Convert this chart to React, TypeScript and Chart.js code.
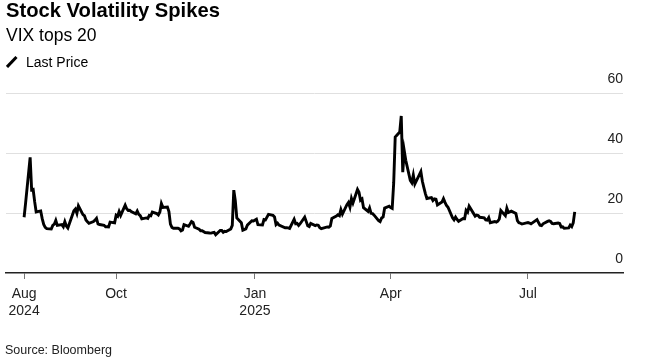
import React, { useEffect, useRef } from 'react';
import { Chart, registerables } from 'chart.js';

Chart.register(...registerables);

const TITLE = 'Stock Volatility Spikes';
const SUBTITLE = 'VIX tops 20';
const SERIES_NAME = 'Last Price';
const SOURCE = 'Source: Bloomberg';

const DATES: string[] = [
  '2024-08-01','2024-08-02','2024-08-05','2024-08-06','2024-08-07','2024-08-08','2024-08-09','2024-08-12','2024-08-13','2024-08-14','2024-08-15','2024-08-16','2024-08-19','2024-08-20','2024-08-21','2024-08-22','2024-08-23','2024-08-26','2024-08-27','2024-08-28','2024-08-29','2024-08-30',
  '2024-09-03','2024-09-04','2024-09-05','2024-09-06','2024-09-09','2024-09-10','2024-09-11','2024-09-12','2024-09-13','2024-09-16','2024-09-17','2024-09-18','2024-09-19','2024-09-20','2024-09-23','2024-09-24','2024-09-25','2024-09-26','2024-09-27','2024-09-30',
  '2024-10-01','2024-10-02','2024-10-03','2024-10-04','2024-10-07','2024-10-08','2024-10-09','2024-10-10','2024-10-11','2024-10-14','2024-10-15','2024-10-16','2024-10-17','2024-10-18','2024-10-21','2024-10-22','2024-10-23','2024-10-24','2024-10-25','2024-10-28','2024-10-29','2024-10-30','2024-10-31',
  '2024-11-01','2024-11-04','2024-11-05','2024-11-06','2024-11-07','2024-11-08','2024-11-11','2024-11-12','2024-11-13','2024-11-14','2024-11-15','2024-11-18','2024-11-19','2024-11-20','2024-11-21','2024-11-22','2024-11-25','2024-11-26','2024-11-27','2024-11-29',
  '2024-12-02','2024-12-03','2024-12-04','2024-12-05','2024-12-06','2024-12-09','2024-12-10','2024-12-11','2024-12-12','2024-12-13','2024-12-16','2024-12-17','2024-12-18','2024-12-19','2024-12-20','2024-12-23','2024-12-24','2024-12-26','2024-12-27','2024-12-30','2024-12-31',
  '2025-01-02','2025-01-03','2025-01-06','2025-01-07','2025-01-08','2025-01-10','2025-01-13','2025-01-14','2025-01-15','2025-01-16','2025-01-17','2025-01-21','2025-01-22','2025-01-23','2025-01-24','2025-01-27','2025-01-28','2025-01-29','2025-01-30','2025-01-31',
  '2025-02-03','2025-02-04','2025-02-05','2025-02-06','2025-02-07','2025-02-10','2025-02-11','2025-02-12','2025-02-13','2025-02-14','2025-02-18','2025-02-19','2025-02-20','2025-02-21','2025-02-24','2025-02-25','2025-02-26','2025-02-27','2025-02-28',
  '2025-03-03','2025-03-04','2025-03-05','2025-03-06','2025-03-07','2025-03-10','2025-03-11','2025-03-12','2025-03-13','2025-03-14','2025-03-17','2025-03-18','2025-03-19','2025-03-20','2025-03-21','2025-03-24','2025-03-25','2025-03-26','2025-03-27','2025-03-28','2025-03-31',
  '2025-04-01','2025-04-02','2025-04-03','2025-04-04','2025-04-07','2025-04-08','2025-04-09','2025-04-10','2025-04-11','2025-04-14','2025-04-15','2025-04-16','2025-04-17','2025-04-21','2025-04-22','2025-04-23','2025-04-24','2025-04-25','2025-04-28','2025-04-29','2025-04-30',
  '2025-05-01','2025-05-02','2025-05-05','2025-05-06','2025-05-07','2025-05-08','2025-05-09','2025-05-12','2025-05-13','2025-05-14','2025-05-15','2025-05-16','2025-05-19','2025-05-20','2025-05-21','2025-05-22','2025-05-23','2025-05-27','2025-05-28','2025-05-29','2025-05-30',
  '2025-06-02','2025-06-03','2025-06-04','2025-06-05','2025-06-06','2025-06-09','2025-06-10','2025-06-11','2025-06-12','2025-06-13','2025-06-16','2025-06-17','2025-06-18','2025-06-20','2025-06-23','2025-06-24','2025-06-25','2025-06-26','2025-06-27','2025-06-30',
  '2025-07-01','2025-07-02','2025-07-03','2025-07-07','2025-07-08','2025-07-09','2025-07-10','2025-07-11','2025-07-14','2025-07-15','2025-07-16','2025-07-17','2025-07-18','2025-07-21','2025-07-22','2025-07-23','2025-07-24','2025-07-25','2025-07-28','2025-07-29','2025-07-30','2025-07-31',
  '2025-08-01',
];

const VIX: number[] = [
  18.59,23.39,38.57,27.71,27.85,23.79,20.37,20.71,18.12,16.19,15.23,14.80,14.65,15.88,16.27,17.55,15.86,16.15,15.43,17.11,15.65,15.00,
  20.72,21.32,19.90,22.38,19.45,19.08,17.69,17.07,16.56,17.14,17.61,18.23,16.33,16.15,15.89,15.39,15.41,15.37,16.96,16.73,
  19.26,18.90,20.49,19.21,22.64,21.42,20.86,20.93,20.46,19.70,20.64,19.58,19.11,18.03,18.37,18.20,19.24,19.08,20.33,19.80,19.34,20.35,23.16,
  21.88,21.98,20.49,16.27,15.20,14.94,14.97,14.71,14.02,14.31,16.14,15.58,16.35,17.16,16.87,15.24,14.60,14.10,14.10,13.51,
  13.34,13.30,13.45,13.54,12.77,14.19,14.18,13.58,13.92,13.81,14.69,15.87,27.62,24.09,18.36,16.78,14.27,14.73,15.95,17.40,17.35,
  17.93,16.13,16.04,17.82,17.70,19.54,19.19,18.71,16.12,16.60,15.97,15.06,15.10,15.02,14.85,17.90,16.41,16.56,15.84,16.43,
  18.62,17.21,15.77,15.50,16.54,15.81,16.02,15.89,15.10,14.77,15.35,15.27,15.66,18.21,18.98,19.43,19.10,21.13,19.63,
  22.78,23.51,21.93,24.87,23.37,27.86,26.92,24.23,24.66,21.77,20.51,21.70,19.90,19.80,19.28,17.48,17.15,18.33,18.69,21.65,22.28,
  21.77,21.51,30.02,45.31,46.98,52.33,33.62,40.72,37.56,30.89,30.12,32.64,29.65,33.82,30.57,28.45,26.47,24.84,25.15,24.17,24.70,
  24.60,22.68,23.64,24.76,23.55,22.48,21.90,18.39,17.72,18.62,17.83,17.24,18.14,18.09,20.87,20.28,22.29,18.96,19.31,19.18,18.57,
  18.36,17.69,17.61,18.48,16.77,17.16,16.95,17.26,18.02,20.82,19.11,21.60,20.14,20.62,19.83,17.48,16.76,16.59,16.32,16.73,
  16.83,16.64,16.38,17.79,16.81,15.94,15.78,16.40,17.20,17.38,17.16,16.52,16.41,16.65,16.50,15.37,15.39,14.93,15.03,15.98,15.48,16.72,
  20.38,
];

const X_TICK_DATES: string[] = ['2024-08-01', '2024-10-01', '2025-01-01', '2025-04-01', '2025-07-01'];
const X_TICK_LABELS: string[][] = [['Aug', '2024'], ['Oct'], ['Jan', '2025'], ['Apr'], ['Jul']];
const X_RANGE: string[] = ['2024-07-20', '2025-09-02'];
const Y_TICKS: number[] = [0, 20, 40, 60];
const Y_RANGE: number[] = [0, 60];

const EPOCH = Date.UTC(2024, 7, 1);
const dayOf = (s: string): number => {
  const [y, m, d] = s.split('-').map(Number);
  return Math.round((Date.UTC(y, m - 1, d) - EPOCH) / 86400000);
};

const FONT = '"Liberation Sans", Arial, Helvetica, sans-serif';

export default function App() {
  const canvasRef = useRef<HTMLCanvasElement | null>(null);

  useEffect(() => {
    if (!canvasRef.current) return;
    const tickDays = X_TICK_DATES.map(dayOf);
    const chart = new Chart(canvasRef.current, {
      type: 'line',
      data: {
        datasets: [
          {
            label: SERIES_NAME,
            data: DATES.map((d, i) => ({ x: dayOf(d), y: VIX[i] })),
            borderColor: '#000',
            backgroundColor: '#000',
            borderWidth: 2.9,
            pointRadius: 0,
            tension: 0,
            fill: false,
          },
        ],
      },
      options: {
        responsive: false,
        animation: false,
        events: [],
        layout: { padding: { top: 93, left: 6, right: 28, bottom: 0 } },
        plugins: {
          legend: { display: false },
          title: { display: false },
          tooltip: { enabled: false },
        },
        scales: {
          x: {
            type: 'linear',
            min: dayOf(X_RANGE[0]),
            max: dayOf(X_RANGE[1]),
            afterBuildTicks: (s: any) => {
              s.ticks = tickDays.map((v) => ({ value: v }));
            },
            afterFit: (s: any) => {
              s.height = 87;
            },
            grid: { drawOnChartArea: false, drawTicks: true, tickLength: 6, color: '#777', lineWidth: 1 },
            border: { display: true, color: '#222', width: 1.5 },
            ticks: {
              autoSkip: false,
              maxRotation: 0,
              minRotation: 0,
              padding: 7,
              color: '#222',
              font: { family: FONT, size: 14, lineHeight: 16.5 / 14 },
              callback: (v: any) => {
                const i = tickDays.indexOf(Number(v));
                return i >= 0 ? X_TICK_LABELS[i] : '';
              },
            },
          },
          y: {
            type: 'linear',
            position: 'right',
            min: Y_RANGE[0],
            max: Y_RANGE[1],
            afterBuildTicks: (s: any) => {
              s.ticks = Y_TICKS.map((v) => ({ value: v }));
            },
            afterFit: (s: any) => {
              s.width = 0;
            },
            grid: {
              drawTicks: false,
              lineWidth: 1,
              color: (c: any) => (c.tick && c.tick.value === 0 ? 'rgba(0,0,0,0)' : '#e0e0e0'),
            },
            border: { display: false },
            ticks: {
              mirror: true,
              padding: 0,
              labelOffset: -14,
              color: '#222',
              font: { family: FONT, size: 14 },
            },
          },
        },
      },
    });
    return () => chart.destroy();
  }, []);

  const text = (top: number, size: number, extra: any = {}) => ({
    position: 'absolute' as const,
    left: 6,
    top,
    fontSize: size,
    lineHeight: `${size}px`,
    whiteSpace: 'nowrap' as const,
    color: '#000',
    ...extra,
  });

  return (
    <div
      style={{
        position: 'fixed',
        left: 0,
        top: 0,
        width: 651,
        height: 360,
        background: '#fff',
        fontFamily: FONT,
        overflow: 'hidden',
      }}
    >
      <canvas ref={canvasRef} width={651} height={360} style={{ position: 'absolute', left: 0, top: 0, width: 651, height: 360 }} />
      <div style={text(0.4, 20.2, { fontWeight: 700 })}>{TITLE}</div>
      <div style={text(27.2, 17.5)}>{SUBTITLE}</div>
      <svg style={{ position: 'absolute', left: 6, top: 56 }} width={12} height={12} viewBox="0 0 12 12">
        <line x1={1} y1={11} x2={10.5} y2={1} stroke="#000" strokeWidth={3} />
      </svg>
      <div style={text(55.2, 14, { left: 26 })}>{SERIES_NAME}</div>
      <div style={text(344.4, 12.5, { left: 5, color: '#222' })}>{SOURCE}</div>
    </div>
  );
}
